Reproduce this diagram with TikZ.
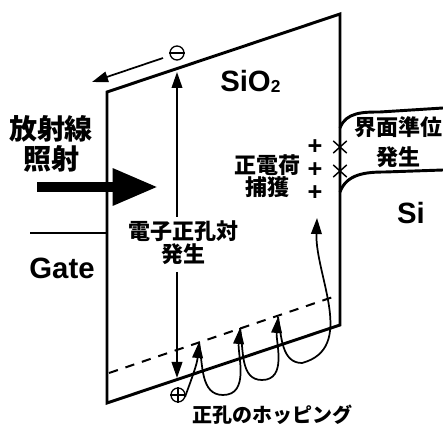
\documentclass[tikz,border=0pt]{standalone}
\usepackage{fontspec}
\setmainfont{Liberation Sans}
\newfontfamily\jpfont{Noto Sans CJK JP}
\usetikzlibrary{arrows.meta, positioning, shapes.misc}
\tikzset{
  oxline/.style={line width=2.2pt, line join=miter},
  thinline/.style={line width=1.3pt},
  myarrow/.style={-{Triangle[length=12pt,width=8pt]}, line width=1.3pt},
  bigarrow/.style={-{Triangle[length=34pt,width=26pt]}, line width=7.5pt},
  charge/.style={circle, draw, line width=1pt, minimum size=10.5pt, inner sep=0pt},
  trap/.style={cross out, draw, line width=1.1pt, minimum width=9pt, minimum height=8pt, inner sep=0pt},
  jplabel/.style={font={\jpfont\bfseries\fontsize{16.5}{#1}\selectfont}, align=center, inner sep=0pt},
  jplabel/.default=17,
  biglabel/.style={font={\jpfont\bfseries\fontsize{21}{22.5}\selectfont}, align=center, inner sep=0pt},
  latin/.style={font={\bfseries\fontsize{22}{24}\selectfont}, inner sep=0pt},
}

\begin{document}
\begin{tikzpicture}[x=0.75pt, y=0.75pt]
  \useasboundingbox (0,0) rectangle (443,425);

  % SiO2 layer
  \coordinate (oxTL) at (107,333);
  \coordinate (oxTR) at (340,411);
  \coordinate (oxBR) at (340,100);
  \coordinate (oxBL) at (107,22);
  \draw[oxline] (oxTL) -- (oxTR) -- (oxBR) -- (oxBL) -- cycle;
  \coordinate (dashL) at (109,52);
  \coordinate (dashR) at (333,128);
  \draw[line width=1.5pt, dash pattern=on 7pt off 6pt] (dashL) -- (dashR);
  \node[anchor=base west, latin] (sio) at (220,333) {SiO\raisebox{-0.5pt}{\fontsize{13}{14}\selectfont 2}};

  % Gate side
  \coordinate (gateEnd) at (30,192);
  \draw[oxline] (gateEnd) -- (gateEnd -| oxTL);
  \node[latin] (gate) at (62,157) {Gate};
  \node[biglabel] (rad) at (51,281) {放射線\\照射};
  \coordinate (radStart) at (37,238);
  \coordinate (radTip) at (158,238);
  \draw[bigarrow] (radStart) -- (radTip);

  % Si side
  \coordinate (siTopL) at (340,297);
  \coordinate (siTopM) at (380,313);
  \coordinate (siTopR) at (443,317);
  \coordinate (siBotL) at (340,233);
  \coordinate (siBotM) at (385,253);
  \coordinate (siBotR) at (443,255);
  \draw[oxline] (siTopL) to[out=70,in=180] (siTopM) -- (siTopR);
  \draw[oxline] (siBotL) to[out=70,in=180] (siBotM) -- (siBotR);
  \node[latin] (si) at (411,212) {Si};
  \node[jplabel=22] (state) at (398,283) {界面準位\\発生};
  \node[trap] (trap1) at (340,278) {};
  \node[trap] (trap2) at (340,254) {};

  % trapped holes
  \foreach \y/\n in {278/1, 255/2, 232/3}
    \node[font={\bfseries\fontsize{19}{20}\selectfont}, inner sep=0pt] (plus\n) at (315,\y) {+};
  \node[jplabel=15] (trapped) at (267,249) {正電荷\\捕獲};

  % electron-hole pair
  \node[charge] (minus) at (177,372) {};
  \draw[line width=1pt] (minus.west) -- (minus.east);
  \node[charge] (plus) at (178,30) {};
  \draw[line width=1pt] (plus.west) -- (plus.east) (plus.north) -- (plus.south);
  \node[jplabel=17] (pair) at (183,182) {電子正孔対\\発生};
  \coordinate (upStart) at (177,208);
  \coordinate (upTip) at (177,353);
  \coordinate (downStart) at (177,153);
  \coordinate (downTip) at (177,47);
  \draw[myarrow] (upStart) -- (upTip);
  \draw[myarrow] (downStart) -- (downTip);
  \coordinate (eStart) at (163,367);
  \coordinate (eTip) at (92,343);
  \draw[myarrow] (eStart) -- (eTip);

  % hopping
  \coordinate (hop0) at (185,28);
  \coordinate (hop1) at (199,83);
  \coordinate (low1) at (223,30);
  \coordinate (hop2) at (240,97);
  \coordinate (low2) at (262,45);
  \coordinate (hop3) at (278,108);
  \coordinate (low3) at (302,62);
  \coordinate (hopEnd) at (317,207);
  \draw[myarrow] (hop0) to[out=70,in=-95] (hop1);
  \draw[myarrow] (hop1) to[out=-80,in=180] (low1) to[out=0,in=-95] (hop2);
  \draw[myarrow] (hop2) to[out=-80,in=180] (low2) to[out=0,in=-95] (hop3);
  \draw[myarrow] (hop3) to[out=-80,in=180] (low3) to[out=15,in=-92] (hopEnd);
  \node[jplabel, font={\jpfont\bfseries\fontsize{15}{16}\selectfont}] (hoplbl) at (272,10) {正孔のホッピング};
\end{tikzpicture}
\end{document}
